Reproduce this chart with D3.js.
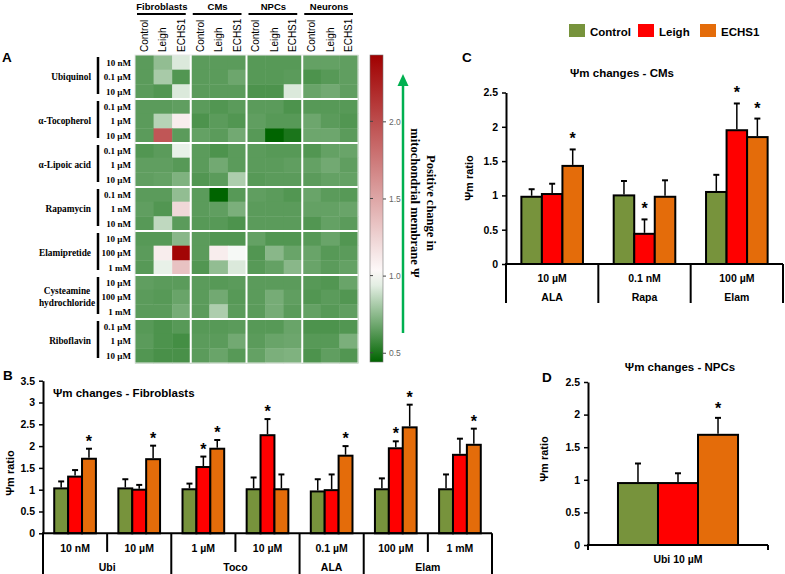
<!DOCTYPE html>
<html><head><meta charset="utf-8">
<script src="https://cdn.jsdelivr.net/npm/d3@7"></script>
<style>body{margin:0;background:#fff}svg{display:block}</style>
</head><body>
<svg id="c" width="785" height="574"></svg>
<script>
// ---------------- DATA ----------------
const hmGroups = ["Fibroblasts", "CMs", "NPCs", "Neurons"];
const hmConditions = ["Control", "Leigh", "ECHS1"];
const drugs = ["Ubiquinol", "α-Tocopherol", "α-Lipoic acid", "Rapamycin", "Elamipretide", "Cysteamine hydrochloride", "Riboflavin"];
const drugDoses = [
  ["10 nM", "0.1 µM", "10 µM"],
  ["0.1 µM", "1 µM", "10 µM"],
  ["0.1 µM", "1 µM", "10 µM"],
  ["0.1 nM", "1 nM", "10 nM"],
  ["10 µM", "100 µM", "1 mM"],
  ["10 µM", "100 µM", "1 mM"],
  ["0.1 µM", "1 µM", "10 µM"]
];
const hmValues = [
  [0.64,0.76,0.92, 0.64,0.64,0.64, 0.63,0.63,0.63, 0.66,0.66,0.65],
  [0.64,0.81,0.62, 0.64,0.64,0.68, 0.63,0.63,0.64, 0.61,0.63,0.65],
  [0.64,0.62,0.92, 0.64,0.64,0.64, 0.61,0.61,0.92, 0.67,0.69,0.65],
  [0.64,0.64,0.65, 0.64,0.62,0.64, 0.64,0.64,0.61, 0.63,0.63,0.63],
  [0.64,0.84,1.10, 0.61,0.64,0.62, 0.65,0.63,0.63, 0.68,0.64,0.62],
  [0.64,1.95,0.64, 0.66,0.64,0.69, 0.63,0.44,0.50, 0.68,0.68,0.64],
  [0.62,0.64,0.95, 0.64,0.61,0.64, 0.64,0.63,0.63, 0.62,0.66,0.67],
  [0.65,0.65,0.63, 0.64,0.69,0.64, 0.64,0.64,0.65, 0.66,0.69,0.65],
  [0.65,0.66,0.72, 0.62,0.64,0.82, 0.63,0.64,0.64, 0.64,0.66,0.66],
  [0.64,0.64,0.76, 0.64,0.44,0.63, 0.65,0.64,0.62, 0.67,0.64,0.63],
  [0.65,0.62,1.22, 0.64,0.65,0.71, 0.64,0.64,0.64, 0.66,0.66,0.67],
  [0.63,0.86,0.64, 0.63,0.63,0.61, 0.64,0.64,0.64, 0.62,0.66,0.64],
  [0.63,0.63,0.74, 0.64,0.62,0.62, 0.66,0.62,0.62, 0.63,0.67,0.62],
  [0.64,1.10,2.40, 0.64,1.10,0.98, 0.62,0.74,0.67, 0.67,0.63,0.64],
  [0.63,0.95,1.34, 0.62,0.76,0.92, 0.63,0.66,0.74, 0.67,0.64,0.66],
  [0.65,0.64,0.64, 0.64,0.63,0.64, 0.64,0.64,0.64, 0.63,0.62,0.67],
  [0.64,0.63,0.67, 0.64,0.69,0.63, 0.64,0.70,0.65, 0.62,0.64,0.62],
  [0.64,0.64,0.70, 0.64,0.82,0.64, 0.64,0.70,0.64, 0.66,0.63,0.65],
  [0.63,0.61,0.63, 0.63,0.63,0.64, 0.63,0.63,0.67, 0.61,0.61,0.62],
  [0.64,0.61,0.59, 0.64,0.64,0.69, 0.64,0.67,0.68, 0.63,0.63,0.71],
  [0.62,0.60,0.60, 0.64,0.67,0.63, 0.66,0.71,0.72, 0.61,0.65,0.62]
];
const colorbarTicks = [0.5, 1.0, 1.5, 2.0];

const seriesNames = ["Control", "Leigh", "ECHS1"];

// Panel B – Fibroblasts
const bCategories = ["10 nM", "10 µM", "1 µM", "10 µM", "0.1 µM", "100 µM", "1 mM"];
const bGroupNames = ["Ubi", "Toco", "ALA", "Elam"];
const bGroupSizes = [2, 2, 1, 2];
const bControl = [1.03, 1.03, 1.01, 1.01, 0.96, 1.01, 1.01];
const bControlErr = [0.16, 0.21, 0.13, 0.27, 0.28, 0.25, 0.34];
const bLeigh = [1.30, 1.00, 1.52, 2.25, 0.99, 1.95, 1.80];
const bLeighErr = [0.15, 0.11, 0.24, 0.37, 0.36, 0.16, 0.37];
const bECHS1 = [1.71, 1.70, 1.94, 1.01, 1.78, 2.43, 2.03];
const bECHS1Err = [0.23, 0.31, 0.20, 0.34, 0.22, 0.52, 0.37];
const bControlStar = [0, 0, 0, 0, 0, 0, 0];
const bLeighStar = [0, 0, 1, 1, 0, 1, 0];
const bECHS1Star = [1, 1, 1, 0, 1, 1, 1];
const bTicks = [0, 0.5, 1, 1.5, 2, 2.5, 3, 3.5];

// Panel C – CMs
const cCategories = ["10 µM", "0.1 nM", "100 µM"];
const cGroupNames = ["ALA", "Rapa", "Elam"];
const cGroupSizes = [1, 1, 1];
const cControl = [0.98, 1.00, 1.05];
const cControlErr = [0.11, 0.21, 0.25];
const cLeigh = [1.02, 0.44, 1.95];
const cLeighErr = [0.15, 0.21, 0.39];
const cECHS1 = [1.43, 0.98, 1.85];
const cECHS1Err = [0.24, 0.24, 0.27];
const cControlStar = [0, 0, 0];
const cLeighStar = [0, 1, 1];
const cECHS1Star = [1, 0, 1];
const cTicks = [0, 0.5, 1, 1.5, 2, 2.5];

// Panel D – NPCs
const dCategories = ["Ubi 10 µM"];
const dControl = [0.95];
const dControlErr = [0.30];
const dLeigh = [0.95];
const dLeighErr = [0.15];
const dECHS1 = [1.69];
const dECHS1Err = [0.26];
const dControlStar = [0];
const dLeighStar = [0];
const dECHS1Star = [1];
const dTicks = [0, 0.5, 1, 1.5, 2, 2.5];

// ---------------- STYLE ----------------
const SANS = "'Liberation Sans', Arial, sans-serif";
const SERIF = "'Liberation Serif', 'Times New Roman', serif";
const seriesColors = {Control: "#77933c", Leigh: "#ff0000", ECHS1: "#e46c0a"};

const svg = d3.select("#c");

// ---------------- HEATMAP (A) ----------------
const hmX0 = 135, hmX1 = 358, hmY0 = 55, hmY1 = 363;
const colKeys = hmGroups.flatMap(g => hmConditions.map(c => g + "|" + c));
const rowKeys = drugs.flatMap((d, i) => drugDoses[i].map(c => d + "|" + c));
const xH = d3.scaleBand().domain(colKeys).range([hmX0, hmX1]);
const yH = d3.scaleBand().domain(rowKeys).range([hmY0, hmY1]);
const color = d3.scaleLinear().domain([0.44, 1, 2.43]).range(["#006400", "#ffffff", "#a00000"]).clamp(true);

const hm = svg.append("g");
hmValues.forEach((row, r) => {
  row.forEach((v, c) => {
    hm.append("rect")
      .attr("x", xH(colKeys[c])).attr("y", yH(rowKeys[r]))
      .attr("width", xH.bandwidth() + 0.4).attr("height", yH.bandwidth() + 0.4)
      .attr("fill", color(v));
  });
});
// white separators
hmGroups.forEach((g, i) => {
  if (i === 0) return;
  const x = xH(g + "|" + hmConditions[0]);
  hm.append("line").attr("x1", x).attr("x2", x).attr("y1", hmY0).attr("y2", hmY1)
    .attr("stroke", "#fff").attr("stroke-width", 2);
});
drugs.forEach((d, i) => {
  if (i === 0) return;
  const y = yH(d + "|" + drugDoses[i][0]);
  hm.append("line").attr("x1", hmX0).attr("x2", hmX1).attr("y1", y).attr("y2", y)
    .attr("stroke", "#fff").attr("stroke-width", 2);
});
hm.append("rect").attr("x", hmX0).attr("y", hmY0).attr("width", hmX1 - hmX0).attr("height", hmY1 - hmY0)
  .attr("fill", "none").attr("stroke", "#e8e8e8").attr("stroke-width", 1);

// column labels
colKeys.forEach(k => {
  const cond = k.split("|")[1];
  svg.append("text")
    .attr("transform", `translate(${xH(k) + xH.bandwidth() / 2 + 3.5},${hmY0 - 3}) rotate(-90)`)
    .attr("font-family", SANS).attr("font-size", 10).attr("fill", "#000")
    .text(cond);
});
// group labels
hmGroups.forEach(g => {
  const gx0 = xH(g + "|" + hmConditions[0]);
  const gx1 = xH(g + "|" + hmConditions[2]) + xH.bandwidth();
  svg.append("text").attr("x", (gx0 + gx1) / 2 - 1).attr("y", 10)
    .attr("text-anchor", "middle").attr("font-family", SANS).attr("font-weight", "bold")
    .attr("font-size", 9.5).text(g);
  svg.append("line").attr("x1", gx0 + 2).attr("x2", gx1 - 5).attr("y1", 14).attr("y2", 14)
    .attr("stroke", "#000").attr("stroke-width", 1.8);
});
// row labels
rowKeys.forEach(k => {
  const dose = k.split("|")[1];
  svg.append("text").attr("x", 131).attr("y", yH(k) + yH.bandwidth() / 2 + 3.2)
    .attr("text-anchor", "end").attr("font-family", SERIF).attr("font-weight", "bold")
    .attr("font-size", 9).text(dose);
});
drugs.forEach((d, i) => {
  const top = yH(d + "|" + drugDoses[i][0]);
  const bot = yH(d + "|" + drugDoses[i][2]) + yH.bandwidth();
  svg.append("line").attr("x1", 98).attr("x2", 98).attr("y1", top + 2).attr("y2", bot - 5)
    .attr("stroke", "#000").attr("stroke-width", 2.5);
  const words = d === "Cysteamine hydrochloride" ? ["Cysteamine", "hydrochloride"] : [d];
  const t = svg.append("text").attr("text-anchor", "middle").attr("font-family", SERIF)
    .attr("font-weight", "bold").attr("font-size", 9.3);
  const cy = (top + bot) / 2;
  words.forEach((w, wi) => {
    t.append("tspan").attr("x", words.length > 1 ? 67 : 91).attr("y", cy + 3.2 + (wi - (words.length - 1) / 2) * 12)
      .attr("text-anchor", words.length > 1 ? "middle" : "end").text(w);
  });
});
svg.append("text").attr("x", 2).attr("y", 62).attr("font-family", SANS).attr("font-weight", "bold")
  .attr("font-size", 13.5).text("A");

// colorbar
const cbY = d3.scaleLinear().domain([0.44, 2.43]).range([362, 55]);
const defs = svg.append("defs");
const grad = defs.append("linearGradient").attr("id", "cbg").attr("x1", 0).attr("x2", 0).attr("y1", 1).attr("y2", 0);
d3.range(0, 1.0001, 0.05).forEach(t => {
  const v = 0.44 + t * (2.43 - 0.44);
  grad.append("stop").attr("offset", t).attr("stop-color", color(v));
});
svg.append("rect").attr("x", 370).attr("y", 55).attr("width", 13).attr("height", 307)
  .attr("fill", "url(#cbg)").attr("stroke", "#777").attr("stroke-width", 0.6);
const cbAxis = svg.append("g").attr("transform", "translate(383,0)")
  .call(d3.axisRight(cbY).tickValues(colorbarTicks).tickFormat(d3.format(".1f")).tickSize(3).tickSizeOuter(0));
cbAxis.select(".domain").remove();
cbAxis.selectAll("text").attr("font-family", SANS).attr("font-size", 8.5).attr("fill", "#666");
cbAxis.selectAll("line").attr("stroke", "#444");
colorbarTicks.forEach(v => {
  svg.append("line").attr("x1", 370).attr("x2", 373).attr("y1", cbY(v)).attr("y2", cbY(v))
    .attr("stroke", "#444");
});

// green arrow
svg.append("line").attr("x1", 403).attr("x2", 403).attr("y1", 333).attr("y2", 84)
  .attr("stroke", "#00b050").attr("stroke-width", 2.5);
svg.append("path").attr("d", "M403,74 L397.5,86 L408.5,86 Z").attr("fill", "#00b050");
const at = svg.append("g").attr("transform", "translate(427,203) rotate(90)");
at.append("text").attr("x", 0).attr("y", 0).attr("text-anchor", "middle")
  .attr("font-family", SERIF).attr("font-weight", "bold").attr("font-size", 12.5).text("Positive change in");
at.append("text").attr("x", 0).attr("y", 16).attr("text-anchor", "middle")
  .attr("font-family", SERIF).attr("font-weight", "bold").attr("font-size", 12.5).text("mitochondrial membrane Ψ");

// ---------------- BAR CHARTS ----------------
function drawBars(cfg) {
  const g = svg.append("g");
  const n = cfg.cats.length;
  const x = d3.scaleBand().domain(d3.range(n)).range([cfg.x0, cfg.x1]);
  const bw = x.bandwidth();
  const sub = d3.scaleBand().domain(seriesNames).range([bw * (1 - cfg.frac) / 2, bw * (1 + cfg.frac) / 2]);
  const y = d3.scaleLinear().domain([0, cfg.yMax]).range([cfg.yBase, cfg.yTopPx]);

  const ax = g.append("g").attr("transform", `translate(${cfg.x0},0)`)
    .call(d3.axisLeft(y).tickValues(cfg.ticks).tickFormat(d3.format("~g")).tickSize(4).tickPadding(4).tickSizeOuter(0));
  ax.select(".domain").attr("stroke-width", 2);
  ax.selectAll(".tick line").attr("stroke-width", 1.5);
  ax.selectAll("text").attr("font-family", SANS).attr("font-weight", "bold").attr("font-size", 10.5).attr("fill", "#000");

  seriesNames.forEach((s, si) => {
    const vals = cfg.vals[si], errs = cfg.errs[si], stars = cfg.stars[si];
    vals.forEach((v, i) => {
      const bx = x(i) + sub(s), sw = sub.bandwidth();
      g.append("rect").attr("x", bx).attr("y", y(v)).attr("width", sw).attr("height", y(0) - y(v))
        .attr("fill", seriesColors[s]).attr("stroke", "#000").attr("stroke-width", 2);
      const cx = bx + sw / 2, top = y(v + errs[i]);
      g.append("line").attr("x1", cx).attr("x2", cx).attr("y1", y(v) - 1).attr("y2", top)
        .attr("stroke", "#000").attr("stroke-width", 1.5);
      g.append("line").attr("x1", cx - 3).attr("x2", cx + 3).attr("y1", top).attr("y2", top)
        .attr("stroke", "#000").attr("stroke-width", 2);
      if (stars[i]) {
        g.append("text").attr("x", cx).attr("y", top - cfg.starGap).attr("text-anchor", "middle")
          .attr("font-family", SANS).attr("font-weight", "bold").attr("font-size", 16).text("*");
      }
    });
  });

  // x axis
  g.append("line").attr("x1", cfg.x0 - 1).attr("x2", cfg.x1).attr("y1", cfg.yBase).attr("y2", cfg.yBase)
    .attr("stroke", "#000").attr("stroke-width", 2);
  cfg.cats.forEach((c, i) => {
    g.append("text").attr("x", x(i) + bw / 2).attr("y", cfg.catY).attr("text-anchor", "middle")
      .attr("font-family", SANS).attr("font-weight", "bold").attr("font-size", 10.5).text(c);
  });
  if (cfg.groupNames) {
    let idx = 0;
    const bounds = [0];
    cfg.groupSizes.forEach(s => { idx += s; bounds.push(idx); });
    for (let i = 0; i <= n; i++) {
      const xx = i === n ? cfg.x1 : x(i);
      const long = bounds.includes(i);
      g.append("line").attr("x1", xx).attr("x2", xx).attr("y1", cfg.yBase)
        .attr("y2", long ? cfg.longY : cfg.shortY).attr("stroke", "#000").attr("stroke-width", 2);
    }
    cfg.groupNames.forEach((gn, gi) => {
      const a = x(bounds[gi]);
      const b = bounds[gi + 1] === n ? cfg.x1 : x(bounds[gi + 1]);
      g.append("text").attr("x", (a + b) / 2).attr("y", cfg.groupY).attr("text-anchor", "middle")
        .attr("font-family", SANS).attr("font-weight", "bold").attr("font-size", 10.5).text(gn);
    });
  } else {
    [cfg.x0, cfg.x1].forEach(xx => {
      g.append("line").attr("x1", xx).attr("x2", xx).attr("y1", cfg.yBase).attr("y2", cfg.yBase + 5)
        .attr("stroke", "#000").attr("stroke-width", 2);
    });
  }
  // y title
  g.append("text").attr("transform", `translate(${cfg.yLabelX},${cfg.yLabelY}) rotate(-90)`)
    .attr("text-anchor", "middle").attr("font-family", SANS).attr("font-weight", "bold")
    .attr("font-size", 11).text("Ψm ratio");
  // chart title
  g.append("text").attr("x", cfg.titleX).attr("y", cfg.titleY).attr("text-anchor", cfg.titleAnchor)
    .attr("font-family", SANS).attr("font-weight", "bold").attr("font-size", 11.5).text(cfg.title);
}

drawBars({
  cats: bCategories, groupNames: bGroupNames, groupSizes: bGroupSizes,
  vals: [bControl, bLeigh, bECHS1], errs: [bControlErr, bLeighErr, bECHS1Err],
  stars: [bControlStar, bLeighStar, bECHS1Star],
  x0: 43, x1: 492, yBase: 533.3, yTopPx: 380.7, yMax: 3.5, ticks: bTicks, frac: 0.65,
  catY: 552, groupY: 571, shortY: 552, longY: 574, starGap: 2,
  yLabelX: 14, yLabelY: 473, title: "Ψm changes - Fibroblasts", titleX: 53, titleY: 397, titleAnchor: "start"
});
drawBars({
  cats: cCategories, groupNames: cGroupNames, groupSizes: cGroupSizes,
  vals: [cControl, cLeigh, cECHS1], errs: [cControlErr, cLeighErr, cECHS1Err],
  stars: [cControlStar, cLeighStar, cECHS1Star],
  x0: 506, x1: 783, yBase: 264, yTopPx: 92.5, yMax: 2.5, ticks: cTicks, frac: 0.667,
  catY: 282, groupY: 301, shortY: 303, longY: 303, starGap: 5,
  yLabelX: 473, yLabelY: 178, title: "Ψm changes - CMs", titleX: 622, titleY: 77, titleAnchor: "middle"
});
drawBars({
  cats: dCategories, groupNames: null,
  vals: [dControl, dLeigh, dECHS1], errs: [dControlErr, dLeighErr, dECHS1Err],
  stars: [dControlStar, dLeighStar, dECHS1Star],
  x0: 588, x1: 768, yBase: 545, yTopPx: 382, yMax: 2.5, ticks: dTicks, frac: 0.667,
  catY: 563, starGap: 4,
  yLabelX: 548, yLabelY: 459, title: "Ψm changes - NPCs", titleX: 680, titleY: 371, titleAnchor: "middle"
});

// panel letters
[["B", 3, 380], ["C", 462, 62], ["D", 542, 382]].forEach(([t, x, y]) => {
  svg.append("text").attr("x", x).attr("y", y).attr("font-family", SANS).attr("font-weight", "bold")
    .attr("font-size", 13.5).text(t);
});

// legend
const legX = [569, 638, 700];
seriesNames.forEach((s, i) => {
  svg.append("rect").attr("x", legX[i]).attr("y", 24).attr("width", 16).attr("height", 13)
    .attr("fill", seriesColors[s]);
  svg.append("text").attr("x", legX[i] + 21).attr("y", 35.5).attr("font-family", SANS)
    .attr("font-weight", "bold").attr("font-size", 11.5).text(s);
});
</script>
</body></html>
